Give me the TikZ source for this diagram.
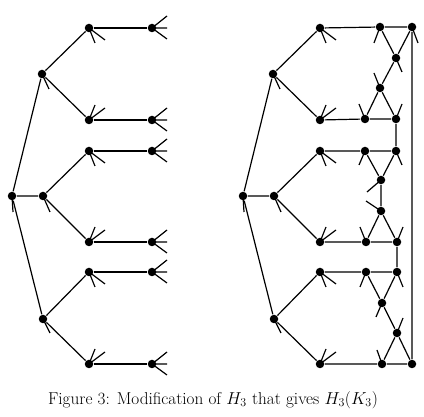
\documentclass[tikz,border=0pt]{standalone}
\begin{document}
\begin{tikzpicture}[x=1pt,y=-1pt,
  dot/.style={circle,fill=black,inner sep=0pt,minimum size=8.5pt},
  edge/.style={line width=1.2pt,black},
  every path/.style={line width=1.2pt}]
\useasboundingbox[fill=white] (0,0) rectangle (424,417);
% half tree macro
\newcommand{\halftree}{%
  \node[dot] (r) at (12,196) {};
  \node[dot] (s) at (43,196) {};
  \node[dot] (u) at (42,74) {};
  \node[dot] (l) at (43,319) {};
  \node[dot] (p1) at (89,28) {};
  \node[dot] (p2) at (89,120) {};
  \node[dot] (p3) at (89,151) {};
  \node[dot] (p4) at (89,242) {};
  \node[dot] (p5) at (89,272) {};
  \node[dot] (p6) at (89,364) {};
  \draw[edge] (r) -- (s) (r) -- (u) (r) -- (l)
    (u) -- (p1) (u) -- (p2) (s) -- (p3) (s) -- (p4) (l) -- (p5) (l) -- (p6);
  \draw[edge] (r.center) -- ++(1,16) (s.center) -- ++(7,16)
    (u.center) -- ++(7,15) (l.center) -- ++(7,14);
  \foreach \p in {p1,p3,p5}{\draw[edge] (\p.center) -- ++(6,15) (\p.center) -- ++(16,12);}
  \foreach \p in {p2,p4,p6}{\draw[edge] (\p.center) -- ++(6,-15) (\p.center) -- ++(16,-12);}
}
% left graph
\begin{scope}[name prefix=L-]
  \halftree
  \foreach \i/\y in {1/28,2/120,3/151,4/242,5/272,6/364}{
    \node[dot] (q\i) at (152,\y) {};
    \draw[edge] (p\i) -- (q\i);
    \draw[edge] (q\i.center) -- ++(15,-12) (q\i.center) -- ++(15,0) (q\i.center) -- ++(15,11);
  }
\end{scope}
% right graph
\begin{scope}[name prefix=R-,xshift=231pt]
  \halftree
\end{scope}
\node[dot] (A1) at (380,27) {};
\node[dot] (A2) at (412,27) {};
\node[dot] (B) at (396,58) {};
\node[dot] (C) at (380,88) {};
\node[dot] (D1) at (365,119) {};
\node[dot] (D2) at (396,119) {};
\node[dot] (E1) at (365,151) {};
\node[dot] (E2) at (396,151) {};
\node[dot] (F) at (381,180) {};
\node[dot] (G) at (381,211) {};
\node[dot] (H1) at (366,242) {};
\node[dot] (H2) at (397,242) {};
\node[dot] (I1) at (366,272) {};
\node[dot] (I2) at (397,272) {};
\node[dot] (J) at (382,303) {};
\node[dot] (K) at (397,333) {};
\node[dot] (M1) at (382,364) {};
\node[dot] (M2) at (412,364) {};
\draw[edge] (R-p1) -- (A1) (A1) -- (A2) (A1) -- (B) (A2) -- (B) (B) -- (C)
  (C) -- (D1) (C) -- (D2) (R-p2) -- (D1) (D1) -- (D2) (D2) -- (E2);
\draw[edge] (R-p3) -- (E1) (E1) -- (E2) (E1) -- (F) (E2) -- (F) (F) -- (G)
  (G) -- (H1) (G) -- (H2) (R-p4) -- (H1) (H1) -- (H2) (H2) -- (I2);
\draw[edge] (R-p5) -- (I1) (I1) -- (I2) (I1) -- (J) (I2) -- (J) (J) -- (K)
  (K) -- (M2) (K) -- (M1) (R-p6) -- (M1) (M1) -- (M2) (M2) -- (A2);
\draw[edge] (A1.center) -- ++(-6,16) (A2.center) -- ++(6,16) (B.center) -- ++(6,14)
  (C.center) -- ++(-6,-15) (D1.center) -- ++(-6,-15) (D2.center) -- ++(6,-15);
\draw[edge] (E1.center) -- ++(-6,14) (E2.center) -- ++(6,14) (F.center) -- ++(-14,12)
  (G.center) -- ++(-15,-10) (H1.center) -- ++(-6,-15) (H2.center) -- ++(6,-15);
\draw[edge] (I1.center) -- ++(-6,15) (I2.center) -- ++(6,15) (J.center) -- ++(-6,14)
  (K.center) -- ++(6,-15) (M1.center) -- ++(-5,-14);
\node[font=\fontsize{17.2}{20}\selectfont] (cap) at (213,400)
  {Figure 3: Modification of $H_3$ that gives $H_3(K_3)$};
\end{tikzpicture}
\end{document}
